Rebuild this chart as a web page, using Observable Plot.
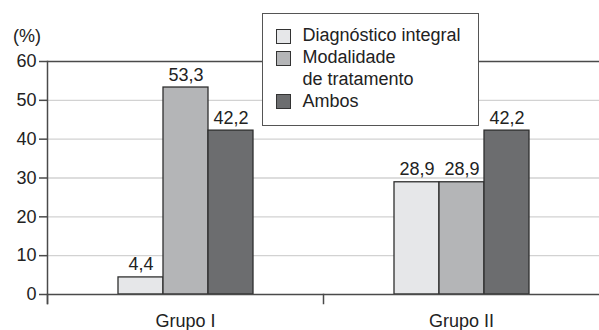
<!DOCTYPE html>
<html>
<head>
<meta charset="utf-8">
<script src="https://cdn.jsdelivr.net/npm/d3@7"></script>
<script src="https://cdn.jsdelivr.net/npm/@observablehq/plot@0.6"></script>
<style>
  body { margin: 0; background: #fff; }
  #chart {
    position: relative; width: 599px; height: 330px;
    font-family: "Liberation Sans", Arial, Helvetica, sans-serif; color: #222;
  }
  #chart svg { position: absolute; left: 0; top: 0; }
  #unit { position: absolute; left: 13px; top: 25.75px; font-size: 18px; line-height: 20px; }
  #legend {
    position: absolute; left: 262px; top: 13px; width: 217px; height: 113px;
    box-sizing: border-box; border: 1.5px solid #555; background: #fff;
    padding-top: 11.4px; font-size: 18px;
  }
  #legend .row { position: relative; line-height: 21.7px; padding-left: 39.5px; white-space: pre-line; }
  #legend .sw {
    position: absolute; left: 13px; top: 3.8px; width: 15px; height: 15px;
    box-sizing: border-box; border: 1.3px solid #333;
  }
</style>
</head>
<body>
<div id="chart">
  <div id="unit">(%)</div>
  <div id="legend"></div>
</div>
<script>
// Categories, series and values
const groups = ["Grupo I", "Grupo II"];
const series = ["Diagnóstico integral", "Modalidade de tratamento", "Ambos"];
const legendLabels = ["Diagnóstico integral", "Modalidade\nde tratamento", "Ambos"];
const grupoI = [4.4, 53.3, 42.2];
const grupoII = [28.9, 28.9, 42.2];
const yTicks = [0, 10, 20, 30, 40, 50, 60];
const gridTicks = [10, 20, 30, 40, 50];
const colors = ["#e6e7e9", "#b4b5b7", "#6c6d6f"];

const valuesByGroup = [grupoI, grupoII];
const data = groups.flatMap((g, gi) =>
  series.map((s, si) => ({group: g, series: s, value: valuesByGroup[gi][si]}))
);
const fmt = v => v.toFixed(1).replace(".", ",");

const chart = Plot.plot({
  width: 599,
  height: 330,
  marginTop: 61,
  marginBottom: 36,
  marginLeft: 46,
  marginRight: 0,
  style: {fontFamily: '"Liberation Sans", Arial, Helvetica, sans-serif', fontSize: "18px", color: "#222", background: "transparent"},
  fx: {domain: groups, padding: 0, label: null},
  x: {domain: series, paddingInner: 0, paddingOuter: 1.54, axis: null},
  y: {domain: [0, 60], label: null},
  color: {domain: series, range: colors},
  marks: [
    Plot.ruleY(gridTicks, {stroke: "#d2d2d2", strokeWidth: 1.3}),
    Plot.barY(data, {fx: "group", x: "series", y: "value", fill: "series", stroke: "#2e2e2e", strokeWidth: 1.3}),
    Plot.ruleY([0, 60], {stroke: "#4a4a4a", strokeWidth: 1.5}),
    Plot.text(data, {fx: "group", x: "series", y: "value", text: d => fmt(d.value), lineAnchor: "bottom", dy: -7, fill: "#222"}),
    Plot.axisY({ticks: yTicks, tickSize: 8, tickPadding: 3, tickFormat: d => String(d), stroke: "#4a4a4a", strokeWidth: 1.5, label: null}),
    Plot.frame({anchor: "left", facetAnchor: "left", insetBottom: -9, stroke: "#4a4a4a", strokeWidth: 1.5}),
    Plot.frame({anchor: "left", insetTop: 233, insetBottom: -9, stroke: "#4a4a4a", strokeWidth: 1.5}),
    Plot.axisFx({anchor: "bottom", tickSize: 0, tickPadding: 20, label: null})
  ]
});
document.getElementById("chart").prepend(chart);

// Legend box drawn over the plot area
const legend = d3.select("#legend");
const rows = legend.selectAll("div.row").data(series).join("div").attr("class", "row");
rows.append("span").attr("class", "sw").style("background", (d, i) => colors[i]);
rows.append("span").text((d, i) => legendLabels[i]);
</script>
</body>
</html>
